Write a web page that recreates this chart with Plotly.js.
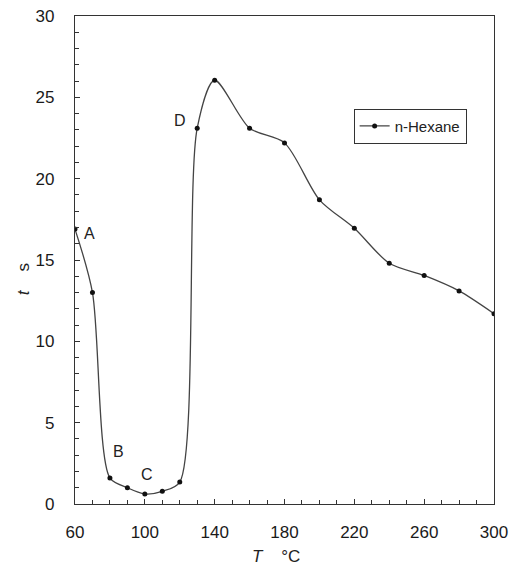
<!DOCTYPE html>
<html><head><meta charset="utf-8">
<script src="https://cdn.plot.ly/plotly-3.0.1.min.js"></script>
<style>body{margin:0;background:#fff}#c{width:513px;height:570px}</style>
</head><body><div id="c"></div>
<script>
var temps = [60,70,80,90,100,110,120,130,140,160,180,200,220,240,260,280,300];
var times = [16.9,13.0,1.6,1.0,0.62,0.78,1.35,23.1,26.05,23.1,22.2,18.7,16.95,14.8,14.05,13.1,11.7];
var seriesName = 'n-Hexane';
var pointLabels = ['A','B','C','D'];
var labelT = [68.5,85,101,120];
var labelV = [16.6,3.2,1.8,23.6];
var xTicks = [60,100,140,180,220,260,300];
var yTicks = [0,5,10,15,20,25,30];

var font = {family:'Liberation Sans, Arial, sans-serif', size:17, color:'#1a1a1a'};
var trace = {x:temps, y:times, name:seriesName, type:'scatter', mode:'lines+markers',
  line:{shape:'spline', smoothing:0.8, color:'#444', width:1.3},
  marker:{size:5, color:'#111'}};
var ann = pointLabels.map(function(l,i){return {x:labelT[i], y:labelV[i], text:l, showarrow:false,
  font:{family:'Liberation Sans, Arial, sans-serif', size:16, color:'#222'}};});
ann.push({xref:'paper', yref:'paper', x:-0.15, y:0.46, text:'<i>t</i>    s', textangle:-90, showarrow:false,
  font:{family:'Liberation Sans, Arial, sans-serif', size:17, color:'#222'}});
ann.push({xref:'paper', yref:'paper', x:0.48, y:-0.085, yanchor:'top', text:'<i>T</i>    °C', showarrow:false,
  font:{family:'Liberation Sans, Arial, sans-serif', size:17, color:'#222'}});
var layout = {
  width:513, height:570, margin:{l:75, r:19, t:16, b:66},
  paper_bgcolor:'#fff', plot_bgcolor:'#fff', font:font, showlegend:true,
  legend:{x:0.665, y:0.81, xanchor:'left', yanchor:'top', bordercolor:'#333', borderwidth:1, bgcolor:'#fff',
    font:{family:'Liberation Sans Narrow, Arial Narrow, sans-serif', size:15, color:'#222'}},
  xaxis:{range:[60,300], tickvals:xTicks, ticks:'inside', ticklen:5, tickcolor:'#333', showgrid:false, zeroline:false,
    ticklabelstandoff:12,
    showline:true, linecolor:'#333', linewidth:1.2, mirror:true,
    minor:{dtick:10, ticks:'inside', ticklen:4, tickcolor:'#333', showgrid:false}},
  yaxis:{range:[0,30], tickvals:yTicks, ticks:'inside', ticklen:5, tickcolor:'#333', showgrid:false, zeroline:false,
    ticklabelstandoff:16,
    showline:true, linecolor:'#333', linewidth:1.2, mirror:true,
    minor:{dtick:1, ticks:'inside', ticklen:4, tickcolor:'#333', showgrid:false}},
  annotations:ann
};
Plotly.newPlot('c',[trace],layout,{displayModeBar:false});
</script></body></html>
